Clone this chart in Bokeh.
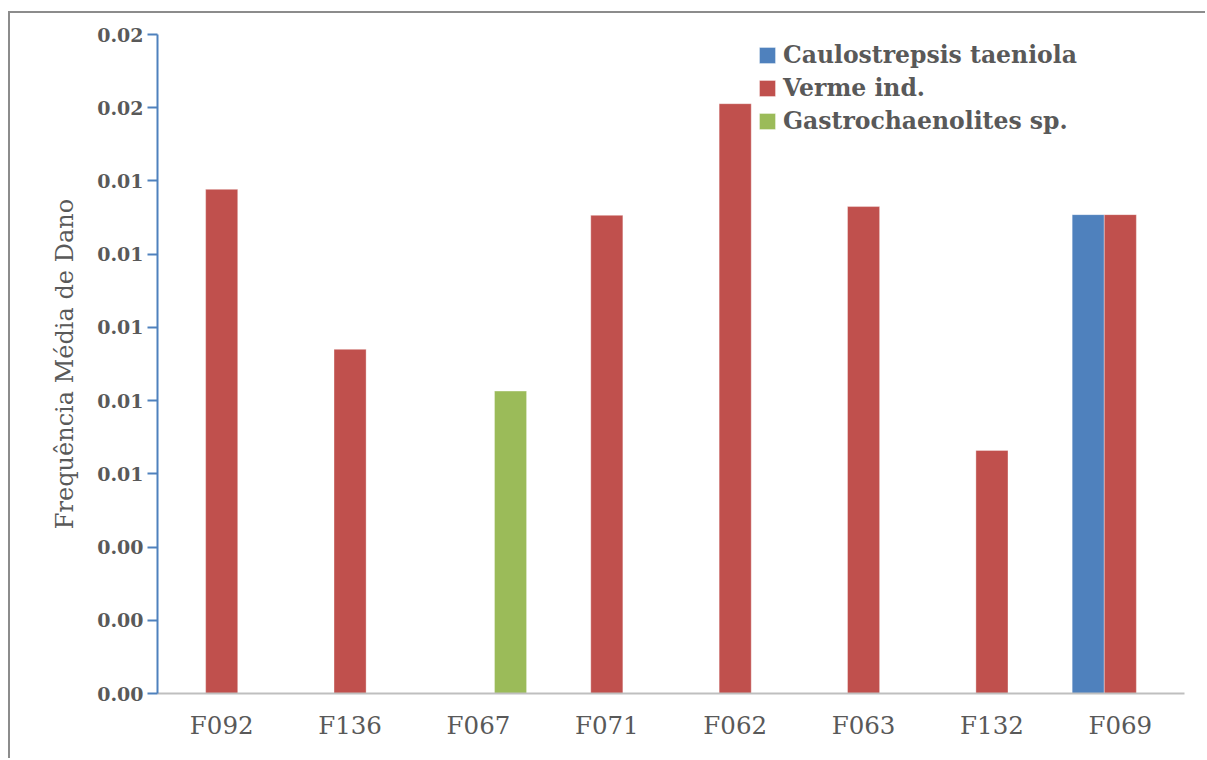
from bokeh.plotting import figure
from bokeh.models import ColumnDataSource, FactorRange, Range1d, FixedTicker, Legend
from bokeh.transform import dodge
from bokeh.embed import file_html
from bokeh.resources import INLINE

categories = ["F092", "F136", "F067", "F071", "F062", "F063", "F132", "F069"]
series_names = ["Caulostrepsis taeniola", "Verme ind.", "Gastrochaenolites sp."]
caulostrepsis = [0, 0, 0, 0, 0, 0, 0, 0.01308]
verme = [0.01377, 0.00940, 0, 0.01306, 0.01611, 0.01330, 0.00664, 0.01308]
gastrochaenolites = [0, 0, 0.00826, 0, 0, 0, 0, 0]
y_ticks = [0.0, 0.002, 0.004, 0.006, 0.008, 0.010, 0.012, 0.014, 0.016, 0.018]
y_tick_labels = ["0.00", "0.00", "0.00", "0.01", "0.01", "0.01", "0.01", "0.01", "0.02", "0.02"]
colors = ["#4F81BD", "#C0504D", "#9BBB59"]

FONT = "DejaVu Serif"
TXT = "#595959"

src = ColumnDataSource(dict(cat=categories, c=caulostrepsis, v=verme, g=gastrochaenolites))

p = figure(
    x_range=FactorRange(*categories, range_padding=0),
    y_range=Range1d(0, 0.018),
    width=1197, height=747,
    output_backend="svg", toolbar_location=None,
    min_border_left=147, min_border_top=21, min_border_right=23, min_border_bottom=67,
)
p.styles = {"border-left": "2px solid #8c8c8c", "border-top": "2px solid #8c8c8c",
            "margin-top": "11px", "margin-left": "8px"}

offsets = [-0.25, 0.0, 0.25]
fields = ["c", "v", "g"]
renderers = []
for f, off, col, name in zip(fields, offsets, colors, series_names):
    r = p.vbar(x=dodge("cat", off, range=p.x_range), top=f, width=0.25, source=src,
               fill_color=col, line_color="#ffffff", line_alpha=0.35, line_width=1)
    renderers.append((name, [r]))

legend = Legend(items=renderers, location=(600, 558))
legend.margin = 0
legend.padding = 0
legend.spacing = 5
legend.glyph_width = 20
legend.glyph_height = 20
legend.label_height = 20
legend.label_standoff = 6
legend.label_text_font = FONT
legend.label_text_font_style = "bold"
legend.label_text_font_size = "23.5px"
legend.label_text_color = TXT
legend.background_fill_alpha = 0
legend.border_line_alpha = 0
p.add_layout(legend)

p.xgrid.visible = False
p.ygrid.visible = False
p.outline_line_color = None

ya = p.yaxis[0]
ya.ticker = FixedTicker(ticks=y_ticks)
ya.major_label_overrides = {t: l for t, l in zip(y_ticks, y_tick_labels)}
ya.axis_line_color = "#4F81BD"
ya.axis_line_width = 2
ya.major_tick_line_color = "#4F81BD"
ya.major_tick_line_width = 2
ya.major_tick_out = 10
ya.major_tick_in = 0
ya.minor_tick_line_color = None
ya.major_label_text_font = FONT
ya.major_label_text_font_style = "bold"
ya.major_label_text_font_size = "19px"
ya.major_label_text_color = TXT
ya.major_label_standoff = 4
ya.axis_label = "Frequência Média de Dano"
ya.axis_label_text_font = FONT
ya.axis_label_text_font_style = "normal"
ya.axis_label_text_font_size = "24px"
ya.axis_label_text_color = TXT
ya.axis_label_standoff = 15

xa = p.xaxis[0]
xa.axis_line_color = "#BFBFBF"
xa.axis_line_width = 2
xa.major_tick_line_color = None
xa.major_tick_out = 0
xa.major_tick_in = 0
xa.minor_tick_line_color = None
xa.major_label_text_font = FONT
xa.major_label_text_font_size = "24.5px"
xa.major_label_text_color = TXT
xa.major_label_standoff = 17

open("out.html", "w").write(file_html(p, INLINE))
